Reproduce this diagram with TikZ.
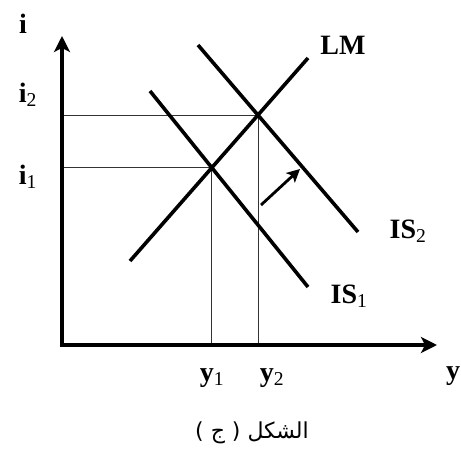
\documentclass[tikz,border=0pt]{standalone}
\usepackage{fontspec}
\setmainfont{Liberation Serif}
\newfontfamily\arabicfont[Script=Arabic]{DejaVu Sans}
\TeXXeTstate=1
\usepackage{tikz}
\usetikzlibrary{arrows.meta,calc}
\usepackage{xcolor}
\newcommand{\sublab}[2]{\textbf{#1}\textsubscript{\mdseries #2}}
\tikzset{
  axis/.style   ={line width=4.5pt, -{Stealth[length=16pt,width=16pt,inset=4pt]}},
  curve/.style  ={line width=3.6pt},
  guide/.style  ={line width=0.9pt, draw=black!80},
  shiftarrow/.style ={line width=2.8pt, -{Stealth[length=13pt,width=13pt,inset=3pt]}},
  lab/.style    ={inner sep=0pt, font=\fontsize{28}{32}\selectfont\bfseries},
  captext/.style={inner sep=0pt, font=\fontsize{22}{26}\selectfont\arabicfont},
}

\begin{document}
\begin{tikzpicture}[x=1pt,y=-1pt]
  \useasboundingbox (0,0) rectangle (461,455);
  % axes
  \coordinate (O)    at (62,345);
  \coordinate (ytop) at (62,36);
  \coordinate (xend) at (437,345);
  % curves
  \coordinate (lmA)  at (130,261);
  \coordinate (lmB)  at (308,58);
  \coordinate (isA)  at (150,91);
  \coordinate (isB)  at (308,287);
  \coordinate (isC)  at (198,45);
  \coordinate (isD)  at (358,232);
  \coordinate (E1) at (intersection of lmA--lmB and isA--isB);
  \coordinate (E2) at (intersection of lmA--lmB and isC--isD);
  \coordinate (shA)  at (261,205);
  \coordinate (shB)  at (300,169);

  % guide lines
  \draw[guide] (E1) -- (E1 |- O);
  \draw[guide] (E2) -- (E2 |- O);
  \draw[guide] (E1) -- (O |- E1);
  \draw[guide] (E2) -- (O |- E2);

  \draw[curve] (lmA) -- (lmB);
  \draw[curve] (isA) -- (isB);
  \draw[curve] (isC) -- (isD);
  \draw[shiftarrow] (shA) -- (shB);

  \draw[axis] (O) -- (ytop);
  \draw[axis] (O) -- (xend);
  \fill (O) ++(-2.25,-2.25) rectangle ++(4.5,4.5);

  % labels
  \node[lab] (li)   at (23,24)  {i};
  \node[lab] (li2)  at (28,95)  {\sublab{i}{2}};
  \node[lab] (li1)  at (28,177) {\sublab{i}{1}};
  \node[lab] (llm)  at (343,45) {LM};
  \node[lab] (lis2) at (408,231) {\sublab{IS}{2}};
  \node[lab] (lis1) at (349,296) {\sublab{IS}{1}};
  \node[lab] (ly1)  at (212,378) {\sublab{y}{1}};
  \node[lab] (ly2)  at (272,378) {\sublab{y}{2}};
  \node[lab] (ly)   at (453,376) {y};
  \node[captext] (capt) at (252,433) {\beginR الشكل ( ج )\endR};
\end{tikzpicture}
\end{document}
